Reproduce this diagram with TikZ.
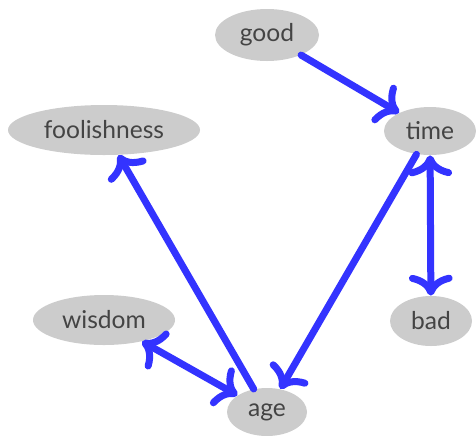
\documentclass[tikz,border=0pt]{standalone}
\usepackage{fontspec}
\setmainfont{Lato}
\usetikzlibrary{arrows.meta,shapes.geometric}
\definecolor{nodegray}{HTML}{CCCCCC}
\definecolor{txtgray}{HTML}{444444}
\definecolor{arrowblue}{HTML}{3333FF}
\tikzset{
  ent/.style={ellipse, fill=nodegray, draw=none, text=txtgray, font=\fontsize{12.3}{14}\selectfont, inner sep=0pt},
  tipstyle/.tip={Computer Modern Rightarrow[round, scale=1.12]},
  conn/.style={draw=arrowblue, line width=3.5pt, line cap=round, arrows={-tipstyle}},
  bi/.style={draw=arrowblue, line width=3.5pt, line cap=round, arrows={tipstyle-tipstyle}}
}
\begin{document}
\begin{tikzpicture}[x={(0.5pt,0pt)}, y={(0pt,-0.5pt)}]
\useasboundingbox (0,0) rectangle (476,435);
\node[ent, minimum width=52pt, minimum height=26pt] (good) at (267,35) {good};
\node[ent, minimum width=46pt, minimum height=24pt] (time) at (430,131) {time};
\node[ent, minimum width=96pt, minimum height=25pt] (fool) at (104,130) {foolishness};
\node[ent, minimum width=71pt, minimum height=25pt] (wisdom) at (104,320) {wisdom};
\node[ent, minimum width=41pt, minimum height=25pt] (bad) at (431,321) {bad};
\node[ent, minimum width=40pt, minimum height=24pt] (age) at (267,412) {age};
\draw[conn] (good) -- (time);
\draw[conn] (time) -- (age);
\draw[conn] (age) -- (fool);
\draw[bi] (wisdom) -- (age);
\draw[bi] (time) -- (bad);
\end{tikzpicture}
\end{document}
